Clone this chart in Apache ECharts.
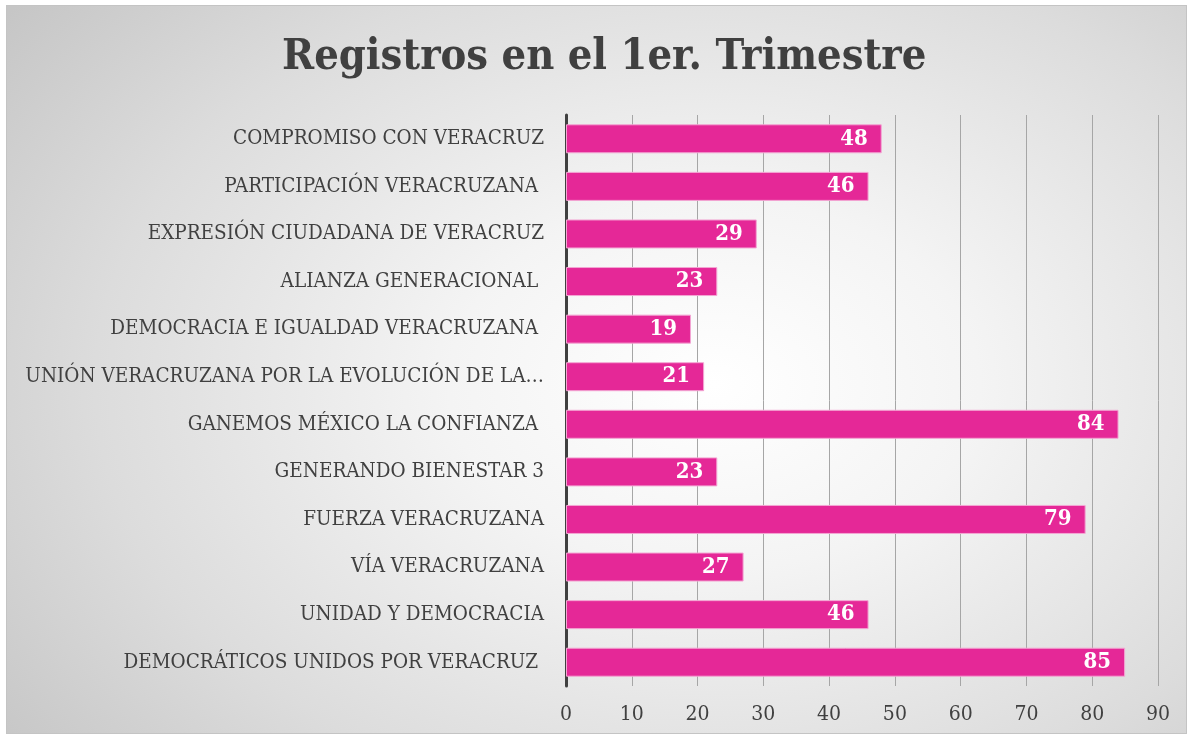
<!DOCTYPE html>
<html><head><meta charset="utf-8">
<script src="https://cdn.jsdelivr.net/npm/echarts@6/dist/echarts.min.js"></script>
<style>
html,body{margin:0;padding:0;width:1191px;height:738px;background:#fff;overflow:hidden}
#frame{position:absolute;left:6px;top:5px;width:1181px;height:729px;border:1px solid #c4c4c4;box-sizing:border-box;
background:radial-gradient(ellipse 75% 85% at 60% 52%, #ffffff 0%, #f4f4f4 30%, #dcdcdc 70%, #c6c6c6 100%);}
#chart{position:absolute;left:0;top:0;width:1191px;height:738px}
</style></head>
<body><div id="frame"></div><div id="chart"></div>
<script>
const titleText = 'Registros en el 1er. Trimestre';
const categories = [
 'COMPROMISO CON VERACRUZ',
 'PARTICIPACIÓN VERACRUZANA ',
 'EXPRESIÓN CIUDADANA DE VERACRUZ',
 'ALIANZA GENERACIONAL ',
 'DEMOCRACIA E IGUALDAD VERACRUZANA ',
 'UNIÓN VERACRUZANA POR LA EVOLUCIÓN DE LA…',
 'GANEMOS MÉXICO LA CONFIANZA ',
 'GENERANDO BIENESTAR 3',
 'FUERZA VERACRUZANA',
 'VÍA VERACRUZANA',
 'UNIDAD Y DEMOCRACIA',
 'DEMOCRÁTICOS UNIDOS POR VERACRUZ '
];
const values = [48, 46, 29, 23, 19, 21, 84, 23, 79, 27, 46, 85];
const axisMin = 0, axisMax = 90, axisStep = 10;

const serif = '"DejaVu Serif Condensed", "DejaVu Serif", serif';
const chart = echarts.init(document.getElementById('chart'));
chart.setOption({
  backgroundColor: 'transparent',
  animation: false,
  title: {
    text: titleText, left: 282, top: 36, padding: 0,
    textStyle: {fontFamily: serif, fontWeight: 'bold', fontSize: 43, color: '#404040'}
  },
  grid: {left: 566, right: 33, top: 115, bottom: 52},
  xAxis: {
    type: 'value', min: axisMin, max: axisMax, interval: axisStep,
    axisLine: {show: false},
    axisTick: {show: false},
    splitLine: {show: true, lineStyle: {color: '#a6a6a6', width: 1}},
    axisLabel: {color: '#404040', fontFamily: serif, fontSize: 21, margin: 18}
  },
  yAxis: {
    type: 'category', data: categories, inverse: true,
    axisLine: {show: true, lineStyle: {color: '#404040', width: 3}},
    axisTick: {show: false},
    axisLabel: {color: '#404040', fontFamily: serif, fontSize: 20.5, margin: 22}
  },
  series: [{
    type: 'bar', data: values, barWidth: 29,
    itemStyle: {color: '#e52897', borderColor: '#f3a6d3', borderWidth: 1},
    label: {show: true, position: 'insideRight', distance: 14, color: '#ffffff',
      fontFamily: serif, fontWeight: 'bold', fontSize: 22}
  }]
});
</script></body></html>
